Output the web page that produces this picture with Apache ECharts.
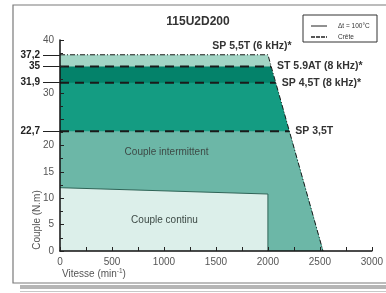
<!DOCTYPE html>
<html>
<head>
<meta charset="utf-8">
<script src="https://cdn.jsdelivr.net/npm/echarts@6/dist/echarts.min.js"></script>
<style>
  html, body { margin: 0; padding: 0; background: #fff; }
  #main { width: 386px; height: 293px; }
</style>
</head>
<body>
<div id="main"></div>
<script>
// torque levels of the drives (N.m) and where each one meets the speed envelope (min-1)
const peakLevels = [37.2, 35, 31.9, 22.7];
const cornerSpeeds = [2000, 2030, 2075, 2205];
const zeroTorqueSpeed = 2530;
const driveNames = ["SP 5,5T (6 kHz)*", "ST 5.9AT (8 kHz)*", "SP 4,5T (8 kHz)*", "SP 3,5T"];

// continuous (Δt = 100°C) curve
const contSpeed = [0, 2000, 2000];
const contTorque = [12, 10.8, 0];

// zone names and where they sit (speed, torque)
const zoneNames = ["Couple intermittent", "Couple continu"];
const zoneSpots = [[1025, 18.7], [1005, 5.9]];

// axis labels
const yTickLabels = [0, 5, 10, 15, 20, 30, 40];
const bandColors = ["#a3d5c5", "#04826a", "#149c82", "#6cb7a7"];

const font = "Liberation Sans, Arial, sans-serif";
const myChart = echarts.init(document.getElementById("main"));

const driveLabel = {
  fontFamily: font,
  fontWeight: "bold",
  fontSize: 10.5,
  color: "#333",
};

const series = [];
// filled bands, biggest first so the next one sits on top
peakLevels.forEach((h, i) => {
  series.push({
    type: "line",
    symbol: "none",
    silent: true,
    lineStyle: { width: 0 },
    areaStyle: { color: bandColors[i], opacity: 1 },
    data: [[0, h], [cornerSpeeds[i], h], [zeroTorqueSpeed, 0]],
  });
});
// continuous zone
series.push({
  type: "line",
  symbol: "none",
  silent: true,
  lineStyle: { width: 1, color: "#2f6457" },
  areaStyle: { color: "#dcefea", opacity: 1 },
  data: contSpeed.map((s, i) => [s, contTorque[i]]),
});
// top envelope (dash-dot)
series.push({
  type: "line",
  symbol: "circle",
  symbolSize: 0,
  showAllSymbol: true,
  silent: true,
  lineStyle: { width: 1, color: "#1c1c1c", type: [5, 2, 1, 2] },
  label: { show: false },
  data: [
    [0, peakLevels[0]],
    {
      value: [cornerSpeeds[0], peakLevels[0]],
      label: Object.assign({ show: true, position: "top", distance: 3, offset: [-16, 0], formatter: driveNames[0] }, driveLabel),
    },
    [zeroTorqueSpeed, 0],
  ],
});
// dashed peak lines
for (let i = 1; i < peakLevels.length; i++) {
  series.push({
    type: "line",
    symbol: "circle",
    symbolSize: 0,
    showAllSymbol: true,
    silent: true,
    lineStyle: { width: 2, color: "#1a1a1a", type: [9, 6] },
    label: { show: false },
    data: [
      [0, peakLevels[i]],
      {
        value: [cornerSpeeds[i], peakLevels[i]],
        label: Object.assign({ show: true, position: "right", distance: 6, formatter: driveNames[i] }, driveLabel),
      },
    ],
  });
}

const graphics = [
  // outer frame and shadow
  { type: "rect", shape: { x: 13, y: 5, width: 400, height: 278 }, style: { fill: "none", stroke: "#7a7a7a", lineWidth: 1.2 }, z: 100 },
  { type: "rect", shape: { x: 20, y: 285, width: 380, height: 4 }, style: { fill: "#b5b5b5" } },
  { type: "rect", shape: { x: 20, y: 291, width: 380, height: 1 }, style: { fill: "#c8c8c8" } },
  // axis names
  {
    type: "text",
    x: 37,
    y: 220,
    rotation: Math.PI / 2,
    style: { text: "Couple (N.m)", font: "10px " + font, fill: "#555", align: "center", verticalAlign: "middle" },
  },
  {
    type: "text",
    x: 62,
    y: 274,
    style: {
      text: "Vitesse (min{s|-1})",
      font: "10px " + font,
      fill: "#555",
      verticalAlign: "middle",
      rich: { s: { fontSize: 6.5, fontFamily: font, fill: "#555", verticalAlign: "top", padding: [0, 0, 6, 0] } },
    },
  },
  // legend box
  { type: "rect", shape: { x: 303, y: 15, width: 74, height: 27 }, style: { fill: "#fff", stroke: "#333", lineWidth: 1 }, z: 100 },
  { type: "line", shape: { x1: 311, y1: 26, x2: 327, y2: 26 }, style: { stroke: "#222", lineWidth: 1 }, z: 101 },
  { type: "line", shape: { x1: 311, y1: 37, x2: 327, y2: 37 }, style: { stroke: "#222", lineWidth: 1.6, lineDash: [4, 1] }, z: 101 },
  { type: "text", x: 338, y: 26, z: 101, style: { text: "Δt = 100°C", font: "6.5px " + font, fill: "#333", verticalAlign: "middle" } },
  { type: "text", x: 338, y: 37, z: 101, style: { text: "Crête", font: "6.5px " + font, fill: "#333", verticalAlign: "middle" } },
];

myChart.setOption({
  animation: false,
  backgroundColor: "#fff",
  title: {
    text: "115U2D200",
    left: 193,
    top: 11,
    textAlign: "center",
    textStyle: { fontFamily: font, fontWeight: "bold", fontSize: 12, color: "#333" },
  },
  grid: { left: 60, right: 12, top: 40, bottom: 42, show: false },
  xAxis: {
    type: "value",
    min: 0,
    max: 3000,
    interval: 500,
    z: 10,
    axisLine: { lineStyle: { color: "#111", width: 1.5 } },
    axisTick: { inside: true, length: 4, lineStyle: { color: "#222" } },
    minorTick: { show: true, splitNumber: 2, length: 4, lineStyle: { color: "#222" } },
    axisLabel: { formatter: (v) => String(v), fontFamily: font, fontSize: 10, color: "#555", margin: 6 },
    splitLine: { show: false },
  },
  yAxis: [
    {
      type: "value",
      min: 0,
      max: 40,
      interval: 5,
      z: 10,
      axisLine: { show: true, lineStyle: { color: "#111", width: 1.5 } },
      axisTick: { inside: true, length: 4, lineStyle: { color: "#222" } },
      minorTick: { show: true, splitNumber: 2, length: 3, lineStyle: { color: "#222" } },
      axisLabel: { customValues: yTickLabels, fontFamily: font, fontSize: 10, color: "#555", margin: 6 },
      splitLine: { show: false },
    },
    {
      type: "value",
      position: "left",
      min: 0,
      max: 40,
      z: 10,
      axisLine: { show: false },
      axisTick: { show: true, customValues: peakLevels, inside: false, length: 17, lineStyle: { color: "#222", width: 1 } },
      axisLabel: {
        customValues: peakLevels,
        formatter: (v) => String(v).replace(".", ","),
        fontFamily: font,
        fontWeight: "bold",
        fontSize: 10,
        color: "#222",
        margin: 20,
      },
      splitLine: { show: false },
    },
  ],
  graphic: graphics,
  series: series,
});

// zone names placed through the chart's own scales
zoneNames.forEach((name, i) => {
  const p = myChart.convertToPixel({ gridIndex: 0 }, zoneSpots[i]);
  graphics.push({
    type: "text",
    x: p[0],
    y: p[1],
    z: 50,
    style: { text: name, font: "10px " + font, fill: "#3d4a46", align: "center", verticalAlign: "middle" },
  });
});
myChart.setOption({ graphic: graphics }, { replaceMerge: ["graphic"] });
</script>
</body>
</html>
